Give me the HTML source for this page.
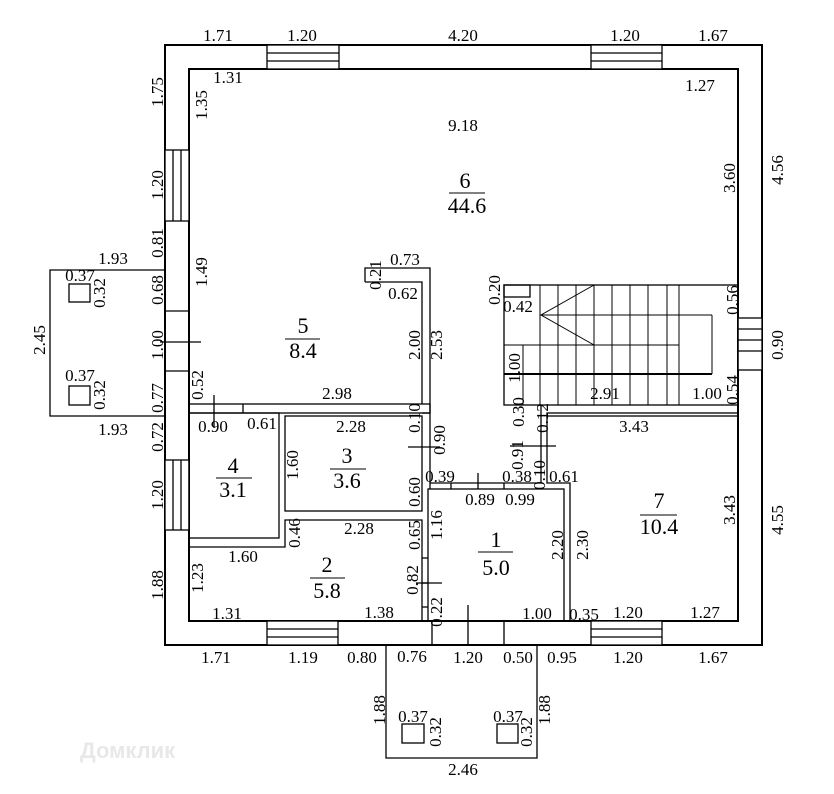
<!DOCTYPE html>
<html><head><meta charset="utf-8"><style>
html,body{margin:0;padding:0;background:#fff;}
svg{display:block}
text{font-family:"Liberation Serif","Times New Roman",serif;font-size:17px;fill:#000}
.b{font-size:22px}
.r{text-anchor:middle}
</style></head><body>
<svg width="834" height="794" viewBox="0 0 834 794" xmlns="http://www.w3.org/2000/svg">
<g fill="none" stroke="#000" stroke-width="2">
<rect x="165" y="45" width="597" height="600"/>
<rect x="189" y="69" width="549" height="552"/>
</g>
<g fill="#fff" stroke="#000" stroke-width="1.3">
<rect x="267" y="45" width="72" height="24"/><line x1="267" y1="53" x2="339" y2="53"/><line x1="267" y1="61" x2="339" y2="61"/>
<rect x="591" y="45" width="71" height="24"/><line x1="591" y1="53" x2="662" y2="53"/><line x1="591" y1="61" x2="662" y2="61"/>
<rect x="267" y="621" width="71" height="24"/><line x1="267" y1="629" x2="338" y2="629"/><line x1="267" y1="637" x2="338" y2="637"/>
<rect x="591" y="621" width="71" height="24"/><line x1="591" y1="629" x2="662" y2="629"/><line x1="591" y1="637" x2="662" y2="637"/>
<rect x="165" y="150" width="24" height="71"/><line x1="173" y1="150" x2="173" y2="221"/><line x1="181" y1="150" x2="181" y2="221"/>
<rect x="165" y="460" width="24" height="70"/><line x1="173" y1="460" x2="173" y2="530"/><line x1="181" y1="460" x2="181" y2="530"/>
<rect x="738" y="318" width="24" height="52"/><line x1="738" y1="329" x2="762" y2="329"/><line x1="738" y1="340" x2="762" y2="340"/><line x1="738" y1="351" x2="762" y2="351"/>
</g>
<g fill="none" stroke="#000" stroke-width="1.3">
<polyline points="165,270 50,270 50,416 165,416"/>
<line x1="165" y1="311" x2="189" y2="311"/><line x1="165" y1="371" x2="189" y2="371"/>
<line x1="160" y1="342" x2="201" y2="342"/>
<rect x="69" y="284" width="21" height="18"/><rect x="69" y="386" width="21" height="19"/>
<polyline points="386,645 386,758 537,758 537,645"/>
<line x1="432" y1="621" x2="432" y2="645"/><line x1="468" y1="605" x2="468" y2="645"/><line x1="504" y1="621" x2="504" y2="645"/>
<rect x="402" y="724" width="22" height="19"/><rect x="497" y="724" width="21" height="19"/>
<rect x="189" y="404" width="241" height="9"/>
<line x1="243" y1="404" x2="243" y2="413"/><line x1="214" y1="395" x2="214" y2="428"/>
<polyline points="365,282 365,268 430,268 430,489"/>
<polyline points="365,282 422,282 422,404"/>
<rect x="189" y="413" width="90" height="125"/>
<rect x="285" y="416" width="137" height="95"/>
<line x1="422" y1="413" x2="430" y2="413"/>
<line x1="408" y1="447" x2="440" y2="447"/>
<polyline points="189,547 285,547 285,520 422,520 422,621"/>
<line x1="422" y1="558" x2="428" y2="558"/><line x1="422" y1="583" x2="428" y2="583"/>
<line x1="416" y1="583" x2="442" y2="583"/>
<line x1="422" y1="607" x2="428" y2="607"/>
<rect x="428" y="489" width="136" height="132"/>
<polyline points="430,483 541,483 541,405"/>
<polyline points="547,416 547,483 570,483 570,621"/>
<line x1="451" y1="483" x2="451" y2="489"/><line x1="478" y1="473" x2="478" y2="489"/><line x1="504" y1="483" x2="504" y2="489"/>
<line x1="510" y1="446" x2="556" y2="446"/>
<rect x="547" y="413" width="191" height="3"/>
<rect x="504" y="285" width="234" height="120"/>
<rect x="504" y="285" width="26" height="12"/>
<g stroke-width="1">
<line x1="523" y1="345" x2="523" y2="405"/>
<line x1="540" y1="285" x2="540" y2="405"/><line x1="558" y1="285" x2="558" y2="405"/>
<line x1="576" y1="285" x2="576" y2="405"/><line x1="594" y1="285" x2="594" y2="405"/>
<line x1="612" y1="285" x2="612" y2="405"/><line x1="630" y1="285" x2="630" y2="405"/>
<line x1="648" y1="285" x2="648" y2="405"/><line x1="667" y1="285" x2="667" y2="405"/>
<line x1="679" y1="285" x2="679" y2="405"/>
<line x1="540" y1="315" x2="712" y2="315"/><line x1="712" y1="315" x2="712" y2="374"/>
<line x1="504" y1="345" x2="679" y2="345"/>
<polyline points="594,285 541,315 594,345"/>
</g>
<line x1="504" y1="374" x2="712" y2="374" stroke-width="2"/>
</g>
<g>
<text x="218" y="41" class="r">1.71</text><text x="302" y="41" class="r">1.20</text>
<text x="463" y="41" class="r">4.20</text><text x="625" y="41" class="r">1.20</text>
<text x="713" y="41" class="r">1.67</text>
<text x="228" y="83" class="r">1.31</text><text x="700" y="91" class="r">1.27</text>
<text x="463" y="131" class="r">9.18</text>
<text x="465" y="188" class="r b">6</text><line x1="449" y1="193" x2="485" y2="193" stroke="#000"/><text x="467" y="213" class="r b">44.6</text>
<text x="303" y="333" class="r b">5</text><line x1="285" y1="339" x2="320" y2="339" stroke="#000"/><text x="303" y="358" class="r b">8.4</text>
<text x="233" y="473" class="r b">4</text><line x1="216" y1="478" x2="252" y2="478" stroke="#000"/><text x="233" y="497" class="r b">3.1</text>
<text x="347" y="463" class="r b">3</text><line x1="330" y1="469" x2="366" y2="469" stroke="#000"/><text x="347" y="488" class="r b">3.6</text>
<text x="327" y="572" class="r b">2</text><line x1="310" y1="578" x2="345" y2="578" stroke="#000"/><text x="327" y="598" class="r b">5.8</text>
<text x="496" y="547" class="r b">1</text><line x1="478" y1="552" x2="513" y2="552" stroke="#000"/><text x="496" y="575" class="r b">5.0</text>
<text x="659" y="508" class="r b">7</text><line x1="640" y1="515" x2="677" y2="515" stroke="#000"/><text x="659" y="534" class="r b">10.4</text>

<text x="113" y="264" class="r">1.93</text><text x="80" y="281" class="r">0.37</text>
<text x="80" y="381" class="r">0.37</text><text x="113" y="435" class="r">1.93</text>
<text x="405" y="265" class="r">0.73</text><text x="403" y="299" class="r">0.62</text>
<text x="337" y="399" class="r">2.98</text>
<text x="213" y="432" class="r">0.90</text><text x="262" y="429" class="r">0.61</text>
<text x="351" y="432" class="r">2.28</text><text x="359" y="534" class="r">2.28</text>
<text x="243" y="562" class="r">1.60</text>
<text x="227" y="619" class="r">1.31</text><text x="379" y="618" class="r">1.38</text>
<text x="440" y="482" class="r">0.39</text><text x="517" y="482" class="r">0.38</text>
<text x="564" y="482" class="r">0.61</text>
<text x="480" y="505" class="r">0.89</text><text x="520" y="505" class="r">0.99</text>
<text x="518" y="312" class="r">0.42</text>
<text x="605" y="399" class="r">2.91</text><text x="707" y="399" class="r">1.00</text>
<text x="634" y="432" class="r">3.43</text>
<text x="537" y="619" class="r">1.00</text><text x="584" y="620" class="r">0.35</text>
<text x="628" y="618" class="r">1.20</text><text x="705" y="618" class="r">1.27</text>
<text x="216" y="663" class="r">1.71</text><text x="303" y="663" class="r">1.19</text>
<text x="362" y="663" class="r">0.80</text><text x="412" y="662" class="r">0.76</text>
<text x="468" y="663" class="r">1.20</text><text x="518" y="663" class="r">0.50</text>
<text x="562" y="663" class="r">0.95</text><text x="628" y="663" class="r">1.20</text>
<text x="713" y="663" class="r">1.67</text>
<text x="413" y="722" class="r">0.37</text><text x="508" y="722" class="r">0.37</text>
<text x="463" y="775" class="r">2.46</text>
</g>
<g>
<text transform="translate(163,92) rotate(-90)" class="r">1.75</text>
<text transform="translate(207,105) rotate(-90)" class="r">1.35</text>
<text transform="translate(163,185) rotate(-90)" class="r">1.20</text>
<text transform="translate(163,243) rotate(-90)" class="r">0.81</text>
<text transform="translate(207,272) rotate(-90)" class="r">1.49</text>
<text transform="translate(163,290) rotate(-90)" class="r">0.68</text>
<text transform="translate(163,345) rotate(-90)" class="r">1.00</text>
<text transform="translate(163,398) rotate(-90)" class="r">0.77</text>
<text transform="translate(203,385) rotate(-90)" class="r">0.52</text>
<text transform="translate(163,437) rotate(-90)" class="r">0.72</text>
<text transform="translate(163,495) rotate(-90)" class="r">1.20</text>
<text transform="translate(163,585) rotate(-90)" class="r">1.88</text>
<text transform="translate(203,578) rotate(-90)" class="r">1.23</text>
<text transform="translate(105,293) rotate(-90)" class="r">0.32</text>
<text transform="translate(105,395) rotate(-90)" class="r">0.32</text>
<text transform="translate(45,340) rotate(-90)" class="r">2.45</text>
<text transform="translate(381,275) rotate(-90)" class="r">0.21</text>
<text transform="translate(420,345) rotate(-90)" class="r">2.00</text>
<text transform="translate(442,345) rotate(-90)" class="r">2.53</text>
<text transform="translate(420,418) rotate(-90)" class="r">0.10</text>
<text transform="translate(445,440) rotate(-90)" class="r">0.90</text>
<text transform="translate(420,492) rotate(-90)" class="r">0.60</text>
<text transform="translate(298,465) rotate(-90)" class="r">1.60</text>
<text transform="translate(300,533) rotate(-90)" class="r">0.46</text>
<text transform="translate(420,535) rotate(-90)" class="r">0.65</text>
<text transform="translate(442,525) rotate(-90)" class="r">1.16</text>
<text transform="translate(418,580) rotate(-90)" class="r">0.82</text>
<text transform="translate(442,612) rotate(-90)" class="r">0.22</text>
<text transform="translate(523,455) rotate(-90)" class="r">0.91</text>
<text transform="translate(524,412) rotate(-90)" class="r">0.30</text>
<text transform="translate(548,418) rotate(-90)" class="r">0.12</text>
<text transform="translate(545,475) rotate(-90)" class="r">0.10</text>
<text transform="translate(500,290) rotate(-90)" class="r">0.20</text>
<text transform="translate(520,368) rotate(-90)" class="r">1.00</text>
<text transform="translate(563,545) rotate(-90)" class="r">2.20</text>
<text transform="translate(588,545) rotate(-90)" class="r">2.30</text>
<text transform="translate(738,300) rotate(-90)" class="r">0.56</text>
<text transform="translate(738,390) rotate(-90)" class="r">0.54</text>
<text transform="translate(735,178) rotate(-90)" class="r">3.60</text>
<text transform="translate(735,510) rotate(-90)" class="r">3.43</text>
<text transform="translate(783,170) rotate(-90)" class="r">4.56</text>
<text transform="translate(783,345) rotate(-90)" class="r">0.90</text>
<text transform="translate(783,520) rotate(-90)" class="r">4.55</text>
<text transform="translate(385,710) rotate(-90)" class="r">1.88</text>
<text transform="translate(550,710) rotate(-90)" class="r">1.88</text>
<text transform="translate(441,732) rotate(-90)" class="r">0.32</text>
<text transform="translate(532,732) rotate(-90)" class="r">0.32</text>
</g>
<text x="80" y="758" style="font-family:'Liberation Sans',sans-serif;font-size:22px;font-weight:bold;fill:#e8e8e8">Домклик</text>
</svg>
</body></html>
